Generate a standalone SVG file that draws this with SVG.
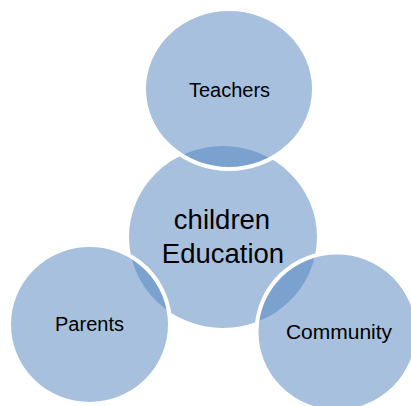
<svg xmlns="http://www.w3.org/2000/svg" width="411" height="406" viewBox="0 0 411 406">
  <style>
    .c { fill: #4f81bd; fill-opacity: 0.5; }
    .outer { stroke: #ffffff; stroke-width: 4; }
    .lbl { font-family: "Liberation Sans", Arial, sans-serif; fill: #000000; text-anchor: middle; }
    .sm { font-size: 20px; }
    .lg { font-size: 27.5px; }
  </style>
  <rect width="411" height="406" fill="#ffffff"/>
  <g id="node-center">
    <ellipse class="c" cx="223" cy="237" rx="94" ry="91"/>
  </g>
  <g id="node-teachers">
    <ellipse class="c outer" cx="229" cy="89" rx="85" ry="80"/>
  </g>
  <g id="node-parents">
    <ellipse class="c outer" cx="89.5" cy="324.5" rx="80.5" ry="79.5"/>
  </g>
  <g id="node-community">
    <ellipse class="c outer" cx="337" cy="332" rx="80.5" ry="79.5"/>
  </g>
  <g id="labels">
    <text class="lbl sm" x="229.5" y="97">Teachers</text>
    <text class="lbl lg" x="222" y="229">children</text>
    <text class="lbl lg" x="223" y="263">Education</text>
    <text class="lbl sm" x="89.5" y="331">Parents</text>
    <text class="lbl sm" x="339" y="339" style="font-size:21px">Community</text>
  </g>
</svg>
